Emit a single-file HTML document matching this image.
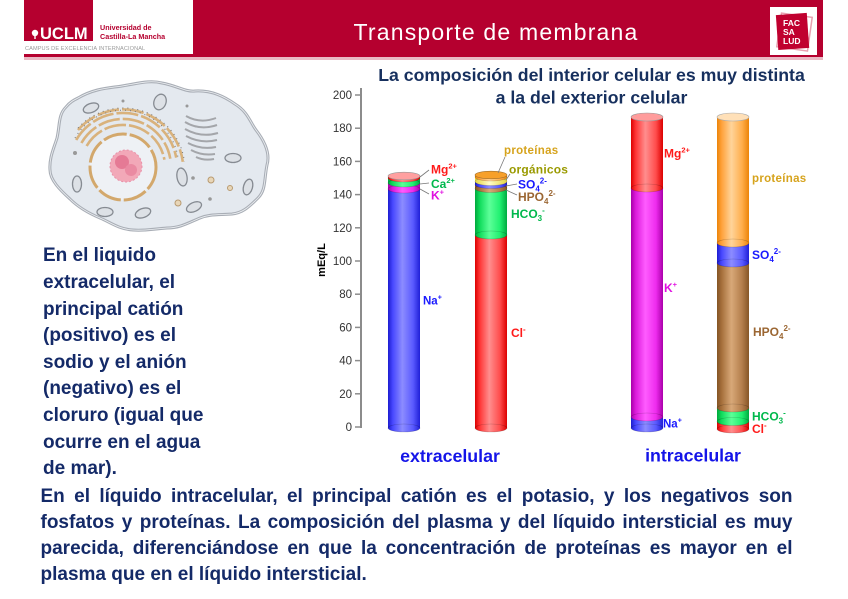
<!DOCTYPE html>
<html><head><meta charset="utf-8">
<style>
html,body{margin:0;padding:0;}
body{width:848px;height:599px;position:relative;background:#fff;overflow:hidden;font-family:"Liberation Sans",Arial,sans-serif;}
.lt{position:absolute;left:43px;top:243.4px;font-size:19px;line-height:26.6px;font-weight:bold;color:#142a68;white-space:nowrap;}
.bt{position:absolute;left:40.5px;top:483.6px;width:752px;font-size:19px;line-height:26.3px;font-weight:bold;color:#142a68;}
.bt div{text-align:justify;text-align-last:justify;white-space:nowrap;}
.bt div.last{text-align:left;text-align-last:left;}
</style></head>
<body>
<svg width="848" height="599" viewBox="0 0 848 599" style="position:absolute;left:0;top:0" font-family="Liberation Sans, Arial, sans-serif">
<defs>
<linearGradient id="gBlue" x1="0" x2="1" y1="0" y2="0"><stop offset="0" stop-color="#1c1cd0"/><stop offset="0.15" stop-color="#4848ff"/><stop offset="0.45" stop-color="#8c8cff"/><stop offset="0.78" stop-color="#5a5aff"/><stop offset="1" stop-color="#2020d8"/></linearGradient>
<linearGradient id="gRed" x1="0" x2="1" y1="0" y2="0"><stop offset="0" stop-color="#dc0000"/><stop offset="0.15" stop-color="#ff3636"/><stop offset="0.45" stop-color="#ff8e8e"/><stop offset="0.78" stop-color="#ff4c4c"/><stop offset="1" stop-color="#dc0000"/></linearGradient>
<linearGradient id="gMag" x1="0" x2="1" y1="0" y2="0"><stop offset="0" stop-color="#a800a8"/><stop offset="0.15" stop-color="#dc1cdc"/><stop offset="0.45" stop-color="#ff5cff"/><stop offset="0.78" stop-color="#ee2cee"/><stop offset="1" stop-color="#aa00aa"/></linearGradient>
<linearGradient id="gGreen" x1="0" x2="1" y1="0" y2="0"><stop offset="0" stop-color="#00a83c"/><stop offset="0.15" stop-color="#10dc5c"/><stop offset="0.45" stop-color="#5cff98"/><stop offset="0.78" stop-color="#20f070"/><stop offset="1" stop-color="#00aa40"/></linearGradient>
<linearGradient id="gOrange" x1="0" x2="1" y1="0" y2="0"><stop offset="0" stop-color="#ec8408"/><stop offset="0.15" stop-color="#ffa23c"/><stop offset="0.45" stop-color="#ffd49a"/><stop offset="0.78" stop-color="#ffae4c"/><stop offset="1" stop-color="#ec8408"/></linearGradient>
<linearGradient id="gBrown" x1="0" x2="1" y1="0" y2="0"><stop offset="0" stop-color="#845424"/><stop offset="0.15" stop-color="#a6703c"/><stop offset="0.45" stop-color="#d8a878"/><stop offset="0.78" stop-color="#b47e4c"/><stop offset="1" stop-color="#865626"/></linearGradient>
<linearGradient id="gYellow" x1="0" x2="1" y1="0" y2="0"><stop offset="0" stop-color="#e4d440"/><stop offset="0.45" stop-color="#fffbc8"/><stop offset="1" stop-color="#e4d440"/></linearGradient>
</defs>

<!-- Header -->
<rect x="24" y="0" width="799" height="57" fill="#b5002f"/>
<rect x="24" y="57" width="799" height="3" fill="#e9b9c4"/>
<!-- UCLM logo -->
<rect x="93" y="0" width="100" height="41" fill="#fff"/>
<rect x="24" y="41" width="169" height="13" fill="#fff"/>
<circle cx="35" cy="33" r="3.2" fill="#fff"/>
<rect x="34.3" y="33" width="1.4" height="6" fill="#fff"/>
<text x="40" y="39" font-size="16.5" font-weight="bold" fill="#fff">UCLM</text>
<text x="100" y="30" font-size="7.2" font-weight="bold" fill="#b5002f">Universidad de</text>
<text x="100" y="39" font-size="7.2" font-weight="bold" fill="#b5002f">Castilla-La Mancha</text>
<text x="25" y="50" font-size="5.6" fill="#9a9a9a" letter-spacing="0.1">CAMPUS DE EXCELENCIA INTERNACIONAL</text>
<!-- FAC logo -->
<rect x="770" y="7" width="47" height="48" fill="#fff"/>
<rect x="779" y="15" width="31" height="34" fill="none" stroke="#e8a0b0" stroke-width="1.5" transform="rotate(8 794 32)"/>
<rect x="777" y="14" width="31" height="35" fill="#c0002f" transform="rotate(-4 792 31)"/>
<text x="783" y="26" font-size="8.5" font-weight="bold" fill="#fff">FAC</text>
<text x="783" y="35" font-size="8.5" font-weight="bold" fill="#fff">SA</text>
<text x="783" y="44" font-size="8.5" font-weight="bold" fill="#fff">LUD</text>
<text x="496" y="40" font-size="23" fill="#fff" text-anchor="middle" letter-spacing="1.2">Transporte de membrana</text>

<!-- Cell -->
<g>
<path d="M78,98 C95,88 110,88 122,86 C140,83 150,80 162,83 C178,86 185,92 195,91 C212,90 225,97 235,104 C248,112 250,122 256,130 C266,143 270,155 267,165 C264,180 266,190 258,198 C248,208 242,213 232,214 C218,215 210,214 200,218 C188,223 180,228 167,228 C152,229 145,231 133,230 C118,229 110,222 100,218 C88,213 78,207 70,199 C60,190 50,180 50,170 C49,158 54,148 57,138 C60,125 58,115 66,107 C70,102 74,100 78,98 Z" fill="#e4e9ef" stroke="#a9aeb6" stroke-width="3"/>
<path d="M78,98 C95,88 110,88 122,86 C140,83 150,80 162,83 C178,86 185,92 195,91 C212,90 225,97 235,104 C248,112 250,122 256,130 C266,143 270,155 267,165 C264,180 266,190 258,198 C248,208 242,213 232,214 C218,215 210,214 200,218 C188,223 180,228 167,228 C152,229 145,231 133,230 C118,229 110,222 100,218 C88,213 78,207 70,199 C60,190 50,180 50,170 C49,158 54,148 57,138 C60,125 58,115 66,107 C70,102 74,100 78,98 Z" fill="none" stroke="#eef1f4" stroke-width="0.8"/>
<!-- ER -->
<g fill="none" stroke="#d9b27c" stroke-width="2.6" stroke-dasharray="22 3">
<path d="M86.6,146 A42,42 0 0 1 164.4,159.7"/>
<path d="M81.4,143 A48,48 0 0 1 170.3,158.7"/>
<path d="M76.2,140 A54,54 0 0 1 176.2,157.6"/>
<path d="M78,130 A60,60 0 0 1 182.8,161.8"/>
</g>
<g fill="none" stroke="#777" stroke-width="1" stroke-dasharray="1 4">
<path d="M78,128 A61.5,61.5 0 0 1 184.5,162"/>
<path d="M75,138 A55.5,55.5 0 0 1 178,157.6"/>
</g>
<!-- Nucleus -->
<circle cx="123" cy="167" r="33" fill="#eef1f5" stroke="#d3a86c" stroke-width="3" stroke-dasharray="24 3"/>
<circle cx="126" cy="166" r="16" fill="#f2a8b8"/>
<circle cx="122" cy="162" r="7" fill="#e57a95"/>
<circle cx="131" cy="170" r="6" fill="#ea8aa2"/>
<circle cx="126" cy="166" r="16" fill="none" stroke="#e890a8" stroke-width="1" stroke-dasharray="2 2"/>
<!-- Golgi -->
<g fill="none" stroke="#a4a6aa" stroke-width="2">
<path d="M186,116 q14,8 30,2"/>
<path d="M185,122 q15,9 32,3"/>
<path d="M185,129 q16,9 33,4"/>
<path d="M186,136 q15,8 31,4"/>
<path d="M188,143 q13,7 28,4"/>
<path d="M191,150 q11,6 24,4"/>
<path d="M196,157 q8,4 18,2"/>
</g>
<!-- Mitochondria -->
<g fill="#dde1e6" stroke="#868b92" stroke-width="1.3">
<ellipse cx="91" cy="108" rx="8" ry="4.5" transform="rotate(-20 91 108)"/>
<ellipse cx="160" cy="102" rx="6" ry="8" transform="rotate(20 160 102)"/>
<ellipse cx="77" cy="184" rx="4.5" ry="8"/>
<ellipse cx="105" cy="212" rx="8" ry="4.5"/>
<ellipse cx="143" cy="213" rx="8" ry="4.5" transform="rotate(-20 143 213)"/>
<ellipse cx="194" cy="207" rx="8" ry="4.5" transform="rotate(-25 194 207)"/>
<ellipse cx="182" cy="177" rx="5" ry="9" transform="rotate(-10 182 177)"/>
<ellipse cx="233" cy="158" rx="8" ry="4.5"/>
<ellipse cx="248" cy="187" rx="4.5" ry="8" transform="rotate(15 248 187)"/>
</g>
<g fill="#999"><circle cx="75" cy="153" r="2"/><circle cx="123" cy="101" r="1.5"/><circle cx="193" cy="178" r="1.8"/><circle cx="210" cy="199" r="1.8"/><circle cx="187" cy="106" r="1.5"/></g>
<g fill="#e8d6b8" stroke="#b89a70" stroke-width="1"><circle cx="211" cy="180" r="3"/><circle cx="178" cy="203" r="3"/><circle cx="230" cy="188" r="2.5"/></g>
</g>

<!-- Chart title -->
<text x="591.5" y="81" font-size="17.7" font-weight="bold" fill="#17305e" text-anchor="middle">La composición del interior celular es muy distinta</text>
<text x="591.5" y="103.5" font-size="17.7" font-weight="bold" fill="#17305e" text-anchor="middle">a la del exterior celular</text>

<!-- Axis -->
<line x1="361" y1="88" x2="361" y2="428" stroke="#8c8c8c" stroke-width="2"/>
<g stroke="#8c8c8c" stroke-width="1.5">
<line x1="355" y1="95" x2="361" y2="95"/><line x1="355" y1="128.2" x2="361" y2="128.2"/><line x1="355" y1="161.4" x2="361" y2="161.4"/><line x1="355" y1="194.6" x2="361" y2="194.6"/><line x1="355" y1="227.8" x2="361" y2="227.8"/><line x1="355" y1="261" x2="361" y2="261"/><line x1="355" y1="294.2" x2="361" y2="294.2"/><line x1="355" y1="327.4" x2="361" y2="327.4"/><line x1="355" y1="360.6" x2="361" y2="360.6"/><line x1="355" y1="393.8" x2="361" y2="393.8"/><line x1="355" y1="427" x2="361" y2="427"/>
</g>
<g font-size="11.5" fill="#333" text-anchor="end">
<text x="352" y="99">200</text><text x="352" y="132.2">180</text><text x="352" y="165.4">160</text><text x="352" y="198.6">140</text><text x="352" y="231.8">120</text><text x="352" y="265">100</text><text x="352" y="298.2">80</text><text x="352" y="331.4">60</text><text x="352" y="364.6">40</text><text x="352" y="397.8">20</text><text x="352" y="431">0</text>
</g>
<text transform="translate(325 260) rotate(-90)" font-size="11" font-weight="bold" fill="#000" text-anchor="middle">mEq/L</text>

<!-- Bars -->
<g stroke="rgba(0,0,0,0.22)" stroke-width="0.6">
<!-- Bar 1 -->
<rect x="388" y="189" width="32" height="239" fill="url(#gBlue)" stroke="none"/><ellipse cx="404" cy="428" rx="16" ry="4" fill="url(#gBlue)"/>
<rect x="388" y="183" width="32" height="6" fill="url(#gMag)" stroke="none"/><ellipse cx="404" cy="189" rx="16" ry="4" fill="url(#gMag)"/>
<rect x="388" y="178" width="32" height="5" fill="url(#gGreen)" stroke="none"/><ellipse cx="404" cy="183" rx="16" ry="4" fill="url(#gGreen)"/>
<rect x="388" y="176" width="32" height="2" fill="url(#gRed)" stroke="none"/><ellipse cx="404" cy="178" rx="16" ry="4" fill="url(#gRed)"/>
<ellipse cx="404" cy="176" rx="16" ry="3.8" fill="#ffa0a0" stroke="#999"/>
<!-- Bar 2 -->
<rect x="475" y="235" width="32" height="193" fill="url(#gRed)" stroke="none"/><ellipse cx="491" cy="428" rx="16" ry="4" fill="url(#gRed)"/>
<rect x="475" y="188.5" width="32" height="46.5" fill="url(#gGreen)" stroke="none"/><ellipse cx="491" cy="235" rx="16" ry="4" fill="url(#gGreen)"/>
<rect x="475" y="184.5" width="32" height="4" fill="url(#gBrown)" stroke="none"/><ellipse cx="491" cy="188.5" rx="16" ry="4" fill="url(#gBrown)"/>
<rect x="475" y="181.5" width="32" height="3" fill="url(#gBlue)" stroke="none"/><ellipse cx="491" cy="184.5" rx="16" ry="4" fill="url(#gBlue)"/>
<rect x="475" y="177" width="32" height="4.5" fill="url(#gYellow)" stroke="none"/><ellipse cx="491" cy="181.5" rx="16" ry="4" fill="url(#gYellow)"/>
<rect x="475" y="175" width="32" height="2" fill="url(#gOrange)" stroke="none"/><ellipse cx="491" cy="177" rx="16" ry="4" fill="url(#gOrange)"/>
<ellipse cx="491" cy="175" rx="16" ry="3.8" fill="#f7a02a" stroke="#a07030"/>
<!-- Bar 3 -->
<rect x="631" y="417" width="32" height="11" fill="url(#gBlue)" stroke="none"/><ellipse cx="647" cy="428" rx="16" ry="4" fill="url(#gBlue)"/>
<rect x="631" y="188" width="32" height="229" fill="url(#gMag)" stroke="none"/><ellipse cx="647" cy="417" rx="16" ry="4" fill="url(#gMag)"/>
<rect x="631" y="117" width="32" height="71" fill="url(#gRed)" stroke="none"/><ellipse cx="647" cy="188" rx="16" ry="4" fill="url(#gRed)"/>
<ellipse cx="647" cy="117" rx="16" ry="4" fill="#ff9c9c" stroke="#999"/>
<!-- Bar 4 -->
<rect x="717" y="421.5" width="32" height="7.5" fill="url(#gRed)" stroke="none"/><ellipse cx="733" cy="429" rx="16" ry="4" fill="url(#gRed)"/>
<rect x="717" y="408" width="32" height="13.5" fill="url(#gGreen)" stroke="none"/><ellipse cx="733" cy="421.5" rx="16" ry="4" fill="url(#gGreen)"/>
<rect x="717" y="263" width="32" height="145" fill="url(#gBrown)" stroke="none"/><ellipse cx="733" cy="408" rx="16" ry="4" fill="url(#gBrown)"/>
<rect x="717" y="243" width="32" height="20" fill="url(#gBlue)" stroke="none"/><ellipse cx="733" cy="263" rx="16" ry="4" fill="url(#gBlue)"/>
<rect x="717" y="117" width="32" height="126" fill="url(#gOrange)" stroke="none"/><ellipse cx="733" cy="243" rx="16" ry="4" fill="url(#gOrange)"/>
<ellipse cx="733" cy="117" rx="16" ry="4" fill="#ffe0b8" stroke="#aaa"/>
</g>

<!-- Leader lines -->
<g stroke="#777" stroke-width="0.8" fill="none">
<line x1="420" y1="177" x2="429" y2="170"/>
<line x1="420" y1="184" x2="429" y2="183"/>
<line x1="420" y1="189" x2="429" y2="194"/>
<line x1="498" y1="173" x2="505" y2="157"/>
<line x1="506" y1="180" x2="510" y2="174"/>
<line x1="506" y1="186" x2="517" y2="184"/>
<line x1="506" y1="190" x2="517" y2="195"/>
</g>

<!-- Labels -->
<g font-size="12" font-weight="bold">
<text x="431" y="173.5" fill="#ff1a1a">Mg<tspan font-size="7.5" dy="-5">2+</tspan></text>
<text x="431" y="188" fill="#00b84c">Ca<tspan font-size="7.5" dy="-5">2+</tspan></text>
<text x="431" y="199.5" fill="#e010e0">K<tspan font-size="7.5" dy="-5">+</tspan></text>
<text x="504" y="154" fill="#d6a31c" font-size="11.5" letter-spacing="0.3">proteínas</text>
<text x="509" y="173.5" fill="#9a9a00" letter-spacing="0.2">orgánicos</text>
<text x="518" y="188.5" fill="#1a1aff">SO<tspan font-size="8" dy="3">4</tspan><tspan font-size="8" dy="-8">2-</tspan></text>
<text x="518" y="201" fill="#9b6632">HPO<tspan font-size="8" dy="3">4</tspan><tspan font-size="8" dy="-8">2-</tspan></text>
<text x="511" y="218" fill="#00b84c">HCO<tspan font-size="8" dy="3">3</tspan><tspan font-size="8" dy="-8">-</tspan></text>
<text x="423" y="304.5" fill="#1a1aff" font-size="11.5">Na<tspan font-size="7" dy="-5">+</tspan></text>
<text x="511" y="337" fill="#ff1a1a">Cl<tspan font-size="8" dy="-5">-</tspan></text>
<text x="664" y="157.5" fill="#ff1a1a">Mg<tspan font-size="7.5" dy="-5">2+</tspan></text>
<text x="664" y="292" fill="#e010e0">K<tspan font-size="7.5" dy="-5">+</tspan></text>
<text x="663" y="427.5" fill="#1a1aff" font-size="11.5">Na<tspan font-size="7" dy="-5">+</tspan></text>
<text x="752" y="182" fill="#d6a31c" font-size="11.5" letter-spacing="0.3">proteínas</text>
<text x="752" y="259" fill="#1a1aff">SO<tspan font-size="8" dy="3">4</tspan><tspan font-size="8" dy="-8">2-</tspan></text>
<text x="753" y="336" fill="#9b6632">HPO<tspan font-size="8" dy="3">4</tspan><tspan font-size="8" dy="-8">2-</tspan></text>
<text x="752" y="420.5" fill="#00b84c">HCO<tspan font-size="8" dy="3">3</tspan><tspan font-size="8" dy="-8">-</tspan></text>
<text x="752" y="433" fill="#ff1a1a">Cl<tspan font-size="8" dy="-5">-</tspan></text>
</g>

<text x="450" y="462" font-size="17.8" font-weight="bold" fill="#1414e8" text-anchor="middle">extracelular</text>
<text x="693" y="461.5" font-size="17.8" font-weight="bold" fill="#1414e8" text-anchor="middle">intracelular</text>
</svg>

<div class="lt">En el liquido<br>extracelular, el<br>principal catión<br>(positivo) es el<br>sodio y el anión<br>(negativo) es el<br>cloruro (igual que<br>ocurre en el agua<br>de mar).</div>

<div class="bt">
<div>En el líquido intracelular, el principal catión es el potasio, y los negativos son</div>
<div>fosfatos y proteínas. La composición del plasma y del líquido intersticial es muy</div>
<div>parecida, diferenciándose en que la concentración de proteínas es mayor en el</div>
<div class="last">plasma que en el líquido intersticial.</div>
</div>
</body></html>
